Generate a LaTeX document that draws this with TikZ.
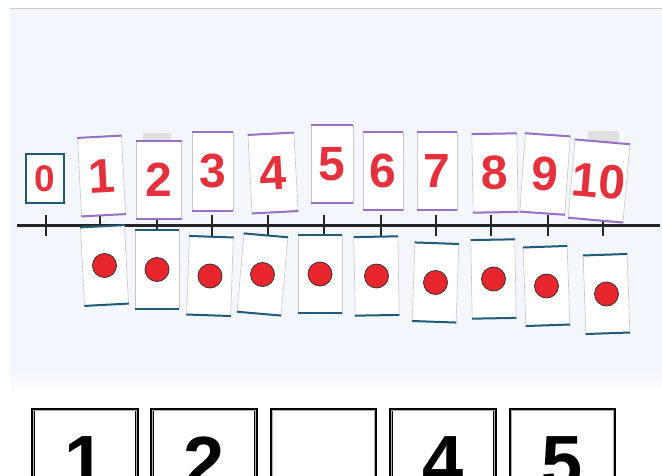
\documentclass[tikz,border=0pt]{standalone}
\usepackage{fontspec}
\setmainfont{Liberation Sans}
\usetikzlibrary{positioning}
\definecolor{cardred}{HTML}{E4313B}
\definecolor{dotred}{HTML}{E8262E}
\definecolor{cardpurple}{HTML}{9A70C6}
\definecolor{cardteal}{HTML}{1F5B7A}
\definecolor{photobg}{HTML}{F3F6FC}
\tikzset{
  numcard/.style={draw=black!22, line width=0.6pt, fill=white, minimum height=78pt,
    inner sep=0pt, text=cardred, font=\bfseries\fontsize{48}{48}\selectfont},
  dotcard/.style={draw=black!22, line width=0.6pt, fill=white, minimum width=44pt,
    minimum height=78pt, inner sep=0pt},
  purpedge/.style={cardpurple, line width=2pt},
  tealedge/.style={cardteal, line width=2pt},
  reddot/.style={circle, draw=black!80, line width=0.8pt, fill=dotred,
    minimum size=24pt, inner sep=0pt},
  tickmark/.style={black!85, line width=2.5pt},
  answerbox/.style={draw=black, line width=3.5pt, fill=white, minimum width=104pt,
    minimum height=120pt, anchor=north},
  bignum/.style={font=\bfseries\fontsize{74}{74}\selectfont, inner sep=0pt}
}
\begin{document}
\begin{tikzpicture}[x=1pt,y=-1pt]
  \useasboundingbox (0,0) rectangle (662,476);
  \clip (0,0) rectangle (662,476);
  % photo background
  \fill[white] (0,0) rectangle (662,476);
  \fill[photobg] (10,9) rectangle (662,370);
  \shade[top color=photobg, bottom color=white] (10,370) rectangle (662,396);
  \draw[black!20, line width=1.5pt] (10,8.5) -- (662,8.5);
  % number line with ticks
  \draw[black!85, line width=3pt] (17,225.5) -- (660,225.5);
  \foreach \x in {46,100,157,212,268,324,381,436,491,548,603} { \draw[tickmark] (\x,215) -- (\x,236); }
  % tape behind cards 2 and 10
  \fill[black!12] (143,133) rectangle (171,144);
  \fill[black!12] (588,131) rectangle (619,144);
  % zero card
  \node[draw=cardteal, line width=2.5pt, fill=white, minimum width=38pt, minimum height=49pt,
    inner sep=0pt, text=cardred, font=\bfseries\fontsize{37}{37}\selectfont] (n0) at (45,178.5) {0};
  % number cards above the line
  \foreach \i/\x/\y/\w/\r in {1/101.5/176/44/3, 2/159/180/45/0, 3/212.5/171.5/41/0,
      4/273/173/46/3, 5/332/164/42/0, 6/383/171/40/0, 7/437/171/40/0,
      8/495/173/45/1, 9/545/174/45/-4, 10/599/181/55/-5}
  {
    \node[numcard, minimum width=\w pt, rotate=\r] (n\i) at (\x,\y) {\i};
    \draw[purpedge] (n\i.north west) -- (n\i.north east);
    \draw[purpedge] (n\i.south west) -- (n\i.south east);
  }
  % dot cards below the line
  \foreach \i/\x/\y/\r in {1/104.5/265.5/3, 2/157/269.5/0, 3/210/276/-2, 4/262.5/274.5/-5,
      5/320/274/0, 6/376.5/276/1, 7/435.5/282.5/-2, 8/493.5/279/1, 9/546.5/286/2, 10/606.5/294/2}
  {
    \node[dotcard, rotate=\r] (d\i) at (\x,\y) {};
    \draw[tealedge] (d\i.north west) -- (d\i.north east);
    \draw[tealedge] (d\i.south west) -- (d\i.south east);
    \node[reddot] (p\i) at (d\i.center) {};
  }
  % answer boxes, cut off at the bottom
  \foreach \i/\x/\t in {1/85/1, 2/204/2, 3/323.5/{}, 4/443/4, 5/562.5/5}
  {
    \node[answerbox] (b\i) at (\x,407.5) {};
    \draw[black!30, line width=0.6pt] ([xshift=2.5pt,yshift=-2.5pt]b\i.north west) rectangle ([xshift=-2.5pt,yshift=2.5pt]b\i.south east);
    \node[bignum, anchor=north, below=29pt of b\i.north] (l\i) {\vphantom{1}\t};
  }
\end{tikzpicture}
\end{document}
